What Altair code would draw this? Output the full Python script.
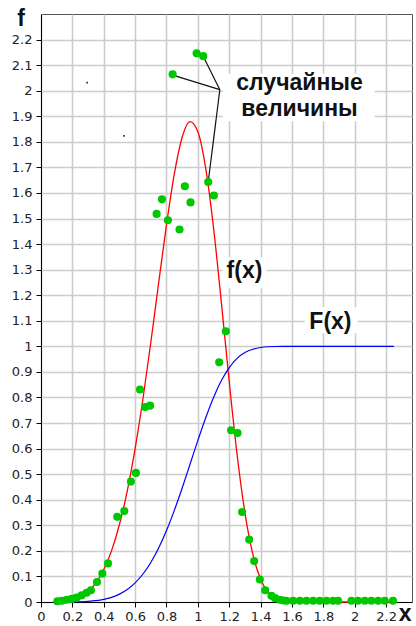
import altair as alt
import pandas as pd

# ---- curves ----
curve_x = [0.10, 0.15, 0.20, 0.25, 0.30, 0.35, 0.40, 0.45, 0.50, 0.55, 0.60, 0.65, 0.70,
           0.75, 0.80, 0.85, 0.90, 0.95, 1.00, 1.05, 1.10, 1.15, 1.20, 1.25, 1.30, 1.35,
           1.40, 1.45, 1.50, 1.55, 1.60, 1.65, 1.70, 1.80, 1.90, 2.00, 2.10, 2.20, 2.25]
f_vals = [0.0005, 0.0025, 0.008, 0.0195, 0.040, 0.075, 0.127, 0.201, 0.303, 0.435, 0.600,
          0.795, 1.015, 1.248, 1.476, 1.675, 1.818, 1.879, 1.839, 1.696, 1.463, 1.170, 0.861,
          0.577, 0.349, 0.188, 0.089, 0.036, 0.013, 0.004, 0.001, 0, 0, 0, 0, 0, 0, 0, 0]
F_vals = [0, 0.0001, 0.0003, 0.001, 0.0024, 0.0052, 0.0102, 0.0183, 0.0308, 0.0491, 0.0748,
          0.1095, 0.1547, 0.2112, 0.2794, 0.3584, 0.4459, 0.5388, 0.6321, 0.7209, 0.8002,
          0.8662, 0.9169, 0.9527, 0.9756, 0.9887, 0.9954, 0.9984, 0.9995, 0.9999, 1, 1, 1,
          1, 1, 1, 1, 1, 1]

# ---- random values (green points) ----
pt_x = [0.104, 0.132, 0.164, 0.196, 0.227, 0.259, 0.291, 0.318, 0.357, 0.391, 0.427,
        0.486, 0.531, 0.573, 0.605, 0.631, 0.664, 0.695, 0.737, 0.771, 0.809, 0.839,
        0.883, 0.917, 0.953, 0.992, 1.034, 1.066, 1.102, 1.136, 1.178, 1.212, 1.253,
        1.282, 1.327, 1.359, 1.395, 1.429, 1.469, 1.492, 1.522, 1.545,
        1.565, 1.607, 1.650, 1.692, 1.735, 1.777, 1.820, 1.862, 1.894,
        1.979, 2.021, 2.064, 2.106, 2.149, 2.191, 2.244]
pt_y = [0.003, 0.005, 0.009, 0.012, 0.017, 0.026, 0.036, 0.046, 0.078, 0.111, 0.151,
        0.333, 0.356, 0.471, 0.505, 0.831, 0.763, 0.768, 1.518, 1.575, 1.493, 2.064,
        1.457, 1.626, 1.563, 2.146, 2.135, 1.643, 1.590, 0.938, 1.059, 0.672, 0.661,
        0.352, 0.244, 0.160, 0.088, 0.046, 0.024, 0.015, 0.009, 0.006,
        0.005, 0.005, 0.005, 0.005, 0.005, 0.005, 0.005, 0.005, 0.005,
        0.005, 0.005, 0.005, 0.005, 0.005, 0.005, 0.005]

# stray specks
speck_x = [0.294, 0.529]
speck_y = [2.032, 1.823]

# ---- axis ticks ----
x_ticks = [0, 0.2, 0.4, 0.6, 0.8, 1.0, 1.2, 1.4, 1.6, 1.8, 2.0, 2.2]
y_ticks = [0, 0.1, 0.2, 0.3, 0.4, 0.5, 0.6, 0.7, 0.8, 0.9, 1.0, 1.1, 1.2, 1.3, 1.4, 1.5,
           1.6, 1.7, 1.8, 1.9, 2.0, 2.1, 2.2]

# ---- annotations ----
box_x1 = [1.159, 1.159, 1.682]
box_x2 = [2.127, 1.439, 2.019]
box_y1 = [1.880, 1.227, 1.051]
box_y2 = [2.066, 1.349, 1.153]

lead_x1 = [0.845, 1.034, 1.140]
lead_y1 = [2.060, 2.135, 2.004]
lead_x2 = [1.140, 1.140, 1.066]
lead_y2 = [2.004, 2.004, 1.643]

label_text = ["случайные", "величины", "f(x)", "F(x)"]
label_x = [1.648, 1.648, 1.297, 1.845]
label_y = [2.003, 1.900, 1.269, 1.066]

axis_text = ["f", "x"]
axis_x = [-0.127, 2.322]
axis_y = [2.252, -0.076]

curves = pd.DataFrame({"x": curve_x, "f": f_vals, "F": F_vals})
points = pd.DataFrame({"x": pt_x, "y": pt_y})
specks = pd.DataFrame({"x": speck_x, "y": speck_y})
boxes = pd.DataFrame({"x": box_x1, "x2": box_x2, "y": box_y1, "y2": box_y2})
leads = pd.DataFrame({"x": lead_x1, "y": lead_y1, "x2": lead_x2, "y2": lead_y2})
labels = pd.DataFrame({"x": label_x, "y": label_y, "t": label_text})
axlabels = pd.DataFrame({"x": axis_x, "y": axis_y, "t": axis_text})

xs = alt.Scale(domain=[0, 2.365], nice=False, zero=False)
ys = alt.Scale(domain=[0, 2.3], nice=False, zero=False)

xaxis = alt.Axis(values=x_ticks, format="~g", grid=True, gridColor="#cccccc", gridWidth=1.6,
                 tickSize=5, tickColor="#000", domainColor="#000", labelFont="DejaVu Sans",
                 labelFontSize=13, labelColor="#222", labelPadding=3, title=None,
                 labelOverlap=False, labelFlush=False)
yaxis = alt.Axis(values=y_ticks, format="~g", grid=True, gridColor="#cccccc", gridWidth=1.6,
                 tickSize=5, tickColor="#000", domainColor="#000", labelFont="DejaVu Sans",
                 labelFontSize=13, labelColor="#222", labelPadding=4, title=None,
                 labelOverlap=False, labelFlush=False)


def X(field="x"):
    return alt.X(f"{field}:Q", scale=xs, axis=xaxis)


def Y(field="y"):
    return alt.Y(f"{field}:Q", scale=ys, axis=yaxis)


box_layer = alt.Chart(boxes).mark_rect(color="white").encode(
    x=X(), x2="x2:Q", y=Y(), y2="y2:Q")

red = alt.Chart(curves).mark_line(color="#ff0000", strokeWidth=1.3, interpolate="monotone").encode(
    x=X(), y=Y("f"))
blue = alt.Chart(curves).mark_line(color="#0000ff", strokeWidth=1.2, interpolate="monotone").encode(
    x=X(), y=Y("F"))

lead_layer = alt.Chart(leads).mark_rule(color="#111", strokeWidth=1.2).encode(
    x=X(), y=Y(), x2="x2:Q", y2="y2:Q")

pts = alt.Chart(points).mark_point(filled=True, color="#00c800", opacity=1, size=66).encode(
    x=X(), y=Y())

speck_layer = alt.Chart(specks).mark_square(color="#333", size=3, opacity=1).encode(
    x=X(), y=Y())

txt = alt.Chart(labels).mark_text(font="Liberation Sans", fontWeight="bold", fontSize=23,
                                  color="#111", align="center", baseline="alphabetic").encode(
    x=X(), y=Y(), text="t:N")

axtxt = alt.Chart(axlabels).mark_text(font="Liberation Sans", fontWeight="bold", fontSize=23,
                                      color="#111", align="center", baseline="alphabetic").encode(
    x=X(), y=Y(), text="t:N")

chart = alt.layer(box_layer, red, blue, lead_layer, pts, speck_layer, txt, axtxt).properties(
    width=371, height=588,
    autosize=alt.AutoSizeParams(type="none"),
    padding={"left": 41, "top": 14, "right": 4, "bottom": 24},
    background="white",
).configure_view(stroke="#555", strokeWidth=1)

chart.save("out.html", embed_options={"renderer": "svg", "actions": False})
